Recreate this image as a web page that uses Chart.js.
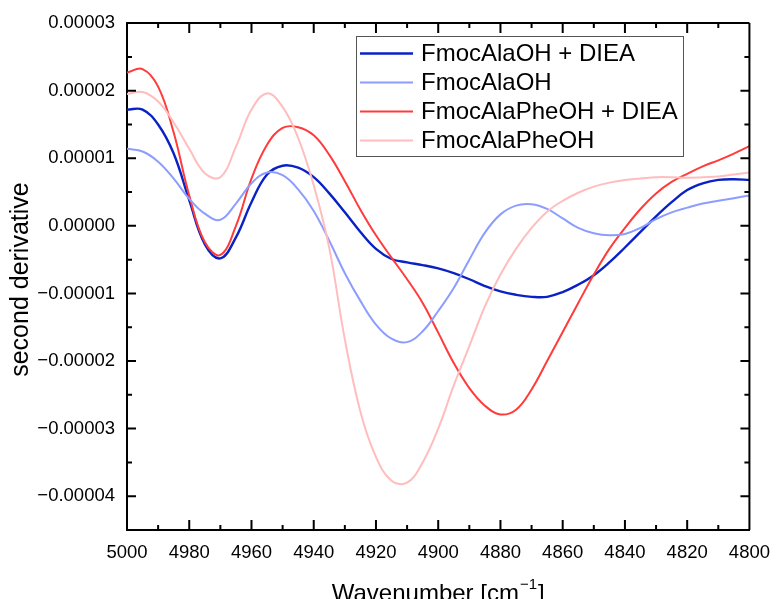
<!DOCTYPE html>
<html>
<head>
<meta charset="utf-8">
<title>Second derivative spectra</title>
<script src="https://cdn.jsdelivr.net/npm/chart.js@4/dist/chart.umd.min.js"></script>
<style>
  html, body { margin: 0; padding: 0; background: #fff; }
  canvas { display: block; }
</style>
</head>
<body>
<canvas id="c" width="782" height="599"></canvas>
<script>
// Wavenumber grid (cm^-1), plotted right-to-left
const wavenumbers = [5000, 4995, 4990, 4985, 4980, 4975, 4970, 4965, 4960, 4955,
                     4950, 4945, 4940, 4935, 4930, 4925, 4920, 4915, 4910, 4905,
                     4900, 4895, 4890, 4885, 4880, 4875, 4870, 4865, 4860, 4855,
                     4850, 4845, 4840, 4835, 4830, 4825, 4820, 4815, 4810, 4805, 4800];

// Second-derivative spectra
const alaOhDiea = [1.72e-5, 1.72e-5, 1.50e-5, 1.07e-5, 0.38e-5, -0.27e-5, -0.48e-5, -0.17e-5, 0.35e-5, 0.76e-5,
                   0.89e-5, 0.86e-5, 0.72e-5, 0.48e-5, 0.20e-5, -0.09e-5, -0.34e-5, -0.49e-5, -0.54e-5, -0.58e-5,
                   -0.63e-5, -0.70e-5, -0.79e-5, -0.89e-5, -0.97e-5, -1.02e-5, -1.05e-5, -1.05e-5, -0.98e-5, -0.87e-5,
                   -0.73e-5, -0.54e-5, -0.32e-5, -0.09e-5, 0.14e-5, 0.35e-5, 0.53e-5, 0.63e-5, 0.68e-5, 0.69e-5, 0.68e-5];

const alaOh = [1.14e-5, 1.10e-5, 0.95e-5, 0.70e-5, 0.40e-5, 0.18e-5, 0.09e-5, 0.33e-5, 0.63e-5, 0.79e-5,
               0.75e-5, 0.54e-5, 0.22e-5, -0.22e-5, -0.70e-5, -1.11e-5, -1.46e-5, -1.67e-5, -1.72e-5, -1.56e-5,
               -1.26e-5, -0.92e-5, -0.50e-5, -0.10e-5, 0.17e-5, 0.30e-5, 0.32e-5, 0.25e-5, 0.11e-5, -0.03e-5,
               -0.11e-5, -0.14e-5, -0.12e-5, -0.03e-5, 0.10e-5, 0.20e-5, 0.27e-5, 0.33e-5, 0.37e-5, 0.41e-5, 0.45e-5];

const alaPheOhDiea = [2.27e-5, 2.32e-5, 2.06e-5, 1.38e-5, 0.45e-5, -0.24e-5, -0.43e-5, 0.00e-5, 0.70e-5, 1.20e-5,
                      1.45e-5, 1.46e-5, 1.34e-5, 1.05e-5, 0.66e-5, 0.24e-5, -0.14e-5, -0.47e-5, -0.79e-5, -1.14e-5,
                      -1.58e-5, -2.03e-5, -2.40e-5, -2.66e-5, -2.79e-5, -2.72e-5, -2.42e-5, -2.00e-5, -1.57e-5, -1.14e-5,
                      -0.72e-5, -0.34e-5, -0.03e-5, 0.25e-5, 0.48e-5, 0.65e-5, 0.77e-5, 0.88e-5, 0.97e-5, 1.07e-5, 1.18e-5];

const alaPheOh = [1.95e-5, 1.98e-5, 1.84e-5, 1.53e-5, 1.14e-5, 0.78e-5, 0.72e-5, 1.17e-5, 1.72e-5, 1.96e-5,
                  1.76e-5, 1.30e-5, 0.60e-5, -0.33e-5, -1.68e-5, -2.75e-5, -3.42e-5, -3.77e-5, -3.80e-5, -3.50e-5,
                  -3.00e-5, -2.36e-5, -1.78e-5, -1.19e-5, -0.72e-5, -0.34e-5, -0.03e-5, 0.21e-5, 0.37e-5, 0.49e-5,
                  0.58e-5, 0.64e-5, 0.68e-5, 0.70e-5, 0.72e-5, 0.72e-5, 0.71e-5, 0.72e-5, 0.73e-5, 0.76e-5, 0.79e-5];

const seriesNames = ['FmocAlaOH + DIEA', 'FmocAlaOH', 'FmocAlaPheOH + DIEA', 'FmocAlaPheOH'];
const seriesColors = ['#0a22c4', '#8c9dff', '#ff3b3b', '#ffbdbd'];
const seriesWidths = [2.4, 2, 2, 2];
const seriesValues = [alaOhDiea, alaOh, alaPheOhDiea, alaPheOh];

const FONT = "'Liberation Sans', Arial, sans-serif";

const toPoints = vals => wavenumbers.map((w, i) => ({ x: w, y: vals[i] }));

function fmtY(v) {
  const n = Math.round(v * 2e5);          // multiples of 0.000005
  if (n % 2 !== 0) return '';
  const s = (n / 2 * 1e-5).toFixed(5);
  return n < 0 ? '\u2212' + s.slice(1) : s;
}

// Box frame with inward ticks, axis titles and the legend
const framePlugin = {
  id: 'frame',
  afterDraw(chart) {
    const ctx = chart.ctx;
    const { left, right, top, bottom } = chart.chartArea;
    const xs = chart.scales.x, ys = chart.scales.y;
    ctx.save();
    ctx.strokeStyle = '#000';
    ctx.lineWidth = 2;
    ctx.beginPath();
    ctx.moveTo(left, top); ctx.lineTo(right, top);
    ctx.moveTo(right, top); ctx.lineTo(right, bottom);
    ctx.stroke();

    ctx.beginPath();
    xs.ticks.forEach(t => {
      const p = xs.getPixelForValue(t.value);
      if (Math.abs(p - left) < 1 || Math.abs(p - right) < 1) return;
      const len = (Math.round(t.value) % 20 === 0) ? 10 : 5;
      ctx.moveTo(p, bottom); ctx.lineTo(p, bottom - len);
      ctx.moveTo(p, top); ctx.lineTo(p, top + len);
    });
    ys.ticks.forEach(t => {
      const p = ys.getPixelForValue(t.value);
      if (Math.abs(p - top) < 1 || Math.abs(p - bottom) < 1) return;
      const len = (Math.round(t.value * 2e5) % 2 === 0) ? 9 : 5;
      ctx.moveTo(left, p); ctx.lineTo(left + len, p);
      ctx.moveTo(right, p); ctx.lineTo(right - len, p);
    });
    ctx.stroke();

    // axis titles
    ctx.fillStyle = '#000';
    ctx.save();
    ctx.translate(21, (top + bottom) / 2 + 3);
    ctx.rotate(-Math.PI / 2);
    ctx.font = '25px ' + FONT;
    ctx.textAlign = 'center';
    ctx.textBaseline = 'middle';
    ctx.fillText('second derivative', 0, 0);
    ctx.restore();

    const main = 'Wavenumber [cm', sup = '\u22121', close = ']';
    ctx.font = '24px ' + FONT;
    const wMain = ctx.measureText(main).width;
    const wClose = ctx.measureText(close).width;
    ctx.font = '15px ' + FONT;
    const wSup = ctx.measureText(sup).width;
    const total = wMain + wSup + 2 + wClose;
    const x0 = (left + right) / 2 - total / 2;
    const base = 601;
    ctx.textAlign = 'left';
    ctx.textBaseline = 'alphabetic';
    ctx.font = '24px ' + FONT;
    ctx.fillText(main, x0, base);
    ctx.font = '15px ' + FONT;
    ctx.fillText(sup, x0 + wMain + 1, base - 12);
    ctx.font = '24px ' + FONT;
    ctx.fillText(close, x0 + wMain + wSup + 2, base);

    // legend, in series order
    const bx = 356.5, by = 36.5, bw = 327, bh = 120;
    ctx.fillStyle = '#fff';
    ctx.fillRect(bx, by, bw, bh);
    ctx.strokeStyle = '#555';
    ctx.lineWidth = 1;
    ctx.strokeRect(bx, by, bw, bh);
    ctx.font = '24px ' + FONT;
    ctx.textBaseline = 'middle';
    seriesNames.forEach((name, i) => {
      const ds = chart.data.datasets.find(d => d.label === name);
      const y = 53.5 + i * 29;
      ctx.strokeStyle = ds.borderColor;
      ctx.lineWidth = ds.borderWidth;
      ctx.beginPath();
      ctx.moveTo(360, y); ctx.lineTo(413, y);
      ctx.stroke();
      ctx.fillStyle = '#000';
      ctx.fillText(ds.label, 421, y + 1);
    });
    ctx.restore();
  }
};

// draw the lighter traces first so the darker ones sit on top
const drawOrder = [3, 1, 2, 0];

new Chart(document.getElementById('c'), {
  type: 'line',
  data: {
    datasets: drawOrder.map(i => ({
      label: seriesNames[i],
      data: toPoints(seriesValues[i]),
      borderColor: seriesColors[i],
      borderWidth: seriesWidths[i],
      pointRadius: 0,
      tension: 0.4,
      fill: false
    }))
  },
  options: {
    responsive: false,
    animation: false,
    layout: { padding: { left: 0, right: 23, top: 21, bottom: 0 } },
    plugins: { legend: { display: false }, tooltip: { enabled: false } },
    scales: {
      x: {
        type: 'linear',
        reverse: true,
        min: 4800,
        max: 5000,
        afterFit: s => { s.height = 69; },
        grid: { display: false, drawTicks: false },
        border: { display: true, color: '#000', width: 2 },
        ticks: {
          stepSize: 10,
          autoSkip: false,
          maxRotation: 0,
          padding: 12,
          color: '#000',
          font: { family: FONT, size: 18.5 },
          callback: v => (Math.round(v) % 20 === 0 ? String(Math.round(v)) : '')
        }
      },
      y: {
        type: 'linear',
        min: -4.5e-5,
        max: 3e-5,
        afterFit: s => { s.width = 127; },
        grid: { display: false, drawTicks: false },
        border: { display: true, color: '#000', width: 2 },
        ticks: {
          stepSize: 5e-6,
          autoSkip: false,
          padding: 12,
          color: '#000',
          font: { family: FONT, size: 18.5 },
          callback: v => fmtY(v)
        }
      }
    }
  },
  plugins: [framePlugin]
});
</script>
</body>
</html>
